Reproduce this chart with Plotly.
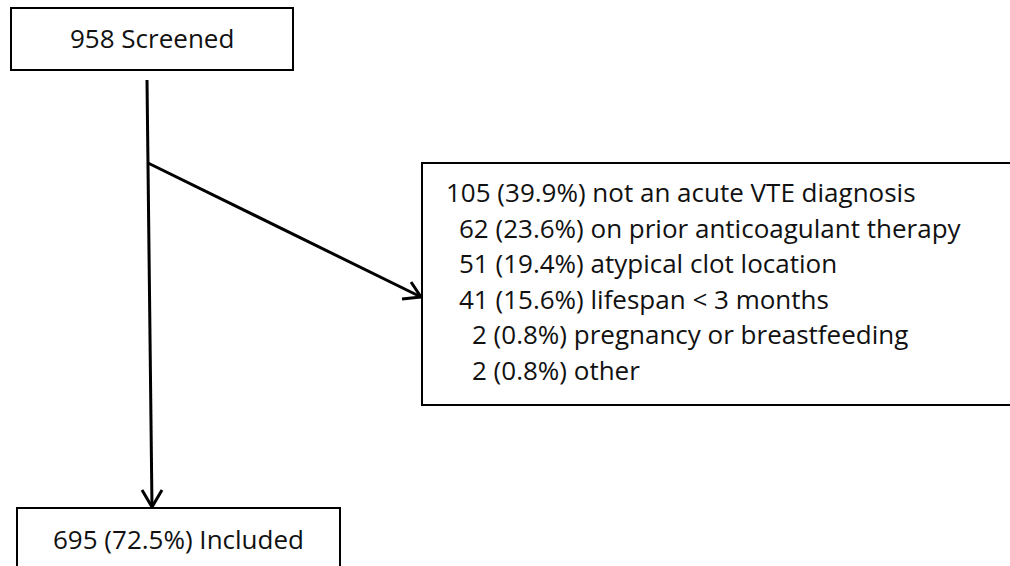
import plotly.graph_objects as go

# ---- data ----
screened = 958
included = 695
included_pct = 72.5
excl_counts = [105, 62, 51, 41, 2, 2]
excl_pcts = [39.9, 23.6, 19.4, 15.6, 0.8, 0.8]
excl_reasons = [
    "not an acute VTE diagnosis",
    "on prior anticoagulant therapy",
    "atypical clot location",
    "lifespan < 3 months",
    "pregnancy or breastfeeding",
    "other",
]

FONT = dict(family="Open Sans, Noto Sans, sans-serif", size=26, color="#111111")
W, H = 1010, 566

fig = go.Figure()
# invisible trace to establish axes
fig.add_trace(go.Scatter(x=[0, W], y=[0, H], mode="markers",
                         marker=dict(opacity=0), hoverinfo="skip", showlegend=False))

shapes = []
def rect(x0, y0, x1, y1):
    shapes.append(dict(type="rect", xref="x", yref="y", x0=x0, y0=y0, x1=x1, y1=y1,
                       line=dict(color="black", width=2), fillcolor="rgba(0,0,0,0)"))
def seg(x0, y0, x1, y1, w=3):
    shapes.append(dict(type="line", xref="x", yref="y", x0=x0, y0=y0, x1=x1, y1=y1,
                       line=dict(color="black", width=w)))

# boxes
rect(11, 8, 293, 70)          # screened
rect(422, 163, 1020, 405)     # exclusions
rect(17, 508, 340, 580)       # included

# main vertical arrow
seg(147, 80, 152, 507)
seg(152, 507, 142, 490)
seg(152, 507, 162, 490)

# diagonal arrow
seg(148, 163, 421, 297)
seg(421, 297, 411, 282)
seg(421, 297, 402, 299)

annotations = []
annotations.append(dict(x=152, y=38, xref="x", yref="y", text=f"{screened} Screened",
                        showarrow=False, font=FONT, xanchor="center", yanchor="middle"))
annotations.append(dict(x=178.5, y=539, xref="x", yref="y",
                        text=f"{included} ({included_pct}%) Included",
                        showarrow=False, font=FONT, xanchor="center", yanchor="middle"))

for i, (n, p, r) in enumerate(zip(excl_counts, excl_pcts, excl_reasons)):
    x = 444 + (3 - len(str(n))) * 13
    y = 192 + i * 35.5
    annotations.append(dict(x=x, y=y, xref="x", yref="y", text=f"{n} ({p}%) {r}",
                            showarrow=False, font=FONT, xanchor="left", yanchor="middle"))

fig.update_layout(
    width=W, height=H,
    margin=dict(l=0, r=0, t=0, b=0),
    paper_bgcolor="white", plot_bgcolor="white",
    xaxis=dict(range=[0, W], visible=False, fixedrange=True),
    yaxis=dict(range=[H, 0], visible=False, fixedrange=True),
    shapes=shapes, annotations=annotations, showlegend=False,
)

fig.write_html("out.html", config={"displayModeBar": False},
               post_script="document.body.style.margin='0';document.body.style.overflow='hidden';")
